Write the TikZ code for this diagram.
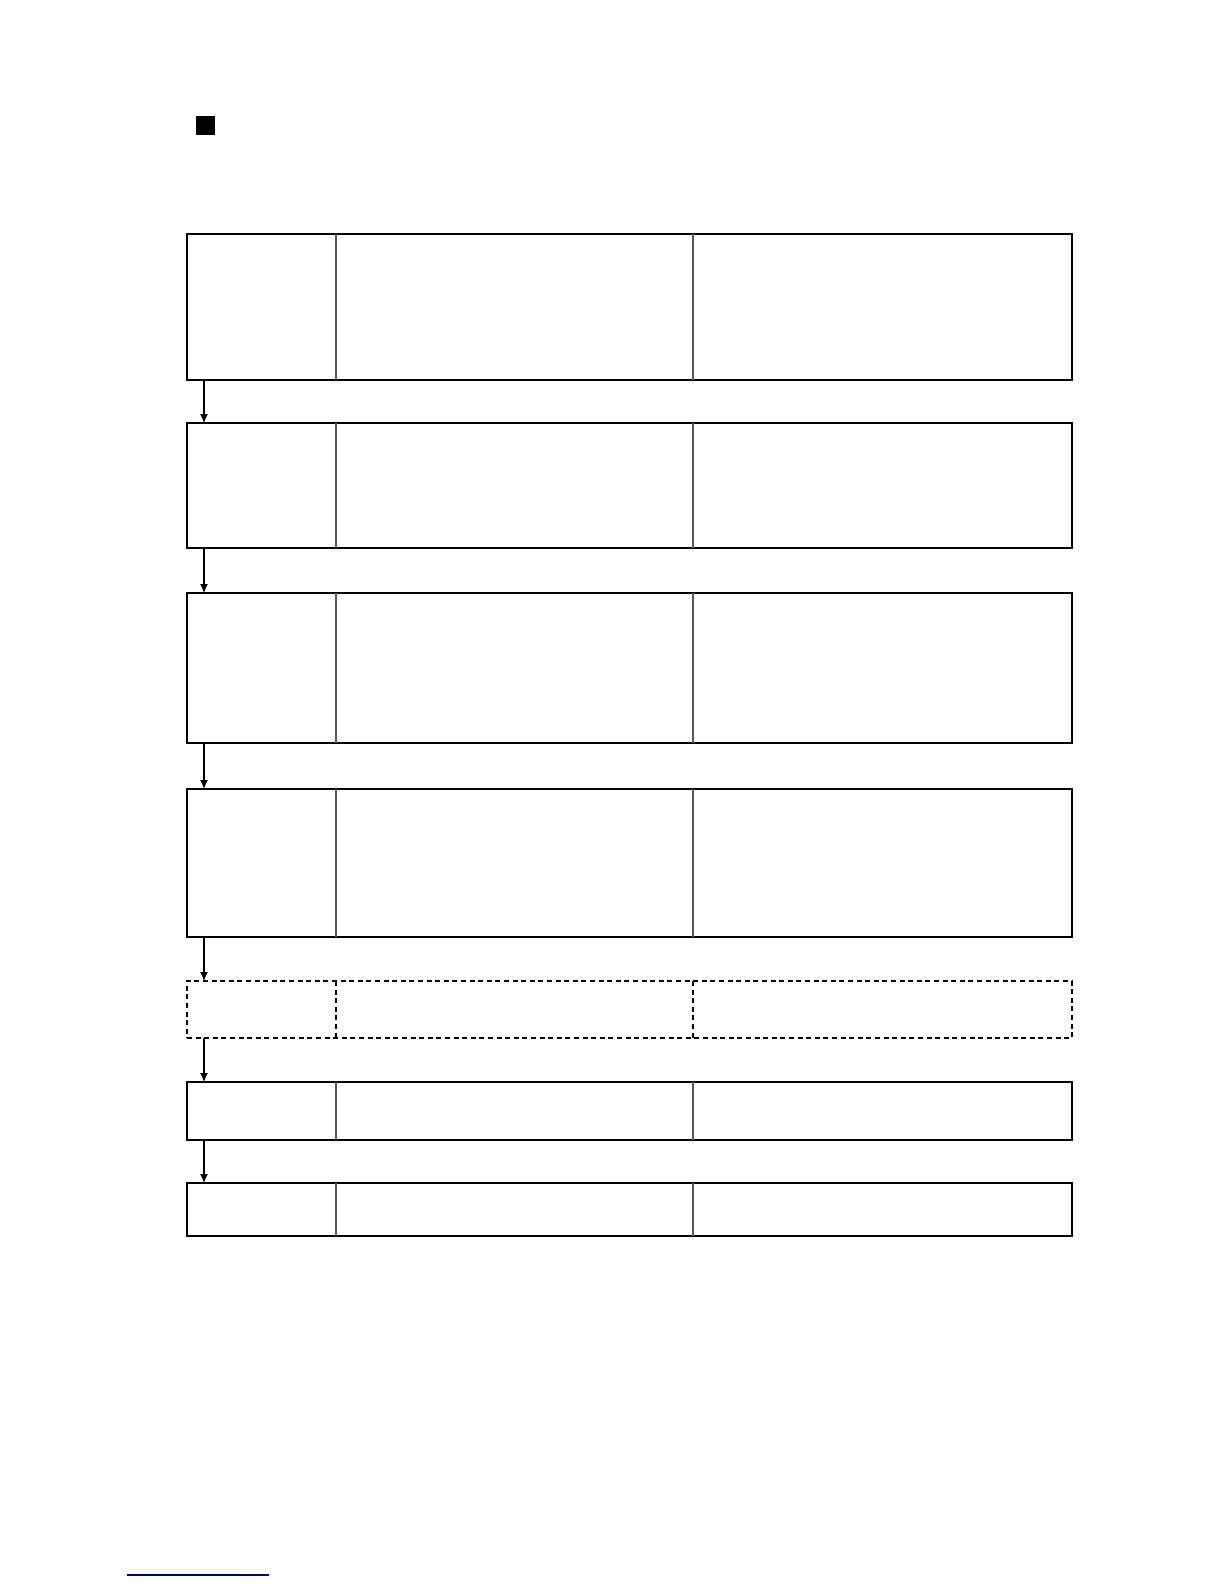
\documentclass[tikz,border=0pt]{standalone}
\usetikzlibrary{arrows.meta}
\begin{document}
\begin{tikzpicture}[x=0.5pt,y=-0.5pt,
  stagebox/.style={draw=black,line width=1pt,rectangle,inner sep=0pt,outer sep=0pt,minimum width=442.5pt},
  dashbox/.style={draw=black,line width=0.8pt,dash pattern=on 2.5pt off 1.8pt,rectangle,inner sep=0pt,outer sep=0pt,minimum width=442.5pt},
  divider/.style={draw=black!65,line width=0.8pt},
  dashdivider/.style={draw=black,line width=0.7pt,dash pattern=on 2.5pt off 1.8pt},
  flow/.style={draw=black,line width=0.6pt,-{Latex[length=4.5pt,width=4pt]}}]
\useasboundingbox (0,0) rectangle (1224,1584);
\fill[white] (0,0) rectangle (1224,1584);
% bullet square
\node[fill=black,inner sep=0pt,minimum size=9.5pt] (bullet) at (205.5,125.5) {};
% boxes
\node[stagebox,minimum height=73pt] (b1) at (629.5,307) {};
\node[stagebox,minimum height=62.5pt] (b2) at (629.5,485.5) {};
\node[stagebox,minimum height=75pt] (b3) at (629.5,668) {};
\node[stagebox,minimum height=74pt] (b4) at (629.5,863) {};
\node[dashbox,minimum height=28.5pt] (b5) at (629.5,1009.5) {};
\node[stagebox,minimum height=29pt] (b6) at (629.5,1111) {};
\node[stagebox,minimum height=26.5pt] (b7) at (629.5,1209.5) {};
% dividers
\foreach \b in {b1,b2,b3,b4,b6,b7}{
  \draw[divider] ([xshift=74.5pt]\b.north west) -- ([xshift=74.5pt]\b.south west);
  \draw[divider] ([xshift=253pt]\b.north west) -- ([xshift=253pt]\b.south west);
}
\draw[dashdivider] ([xshift=74.5pt]b5.north west) -- ([xshift=74.5pt]b5.south west);
\draw[dashdivider] ([xshift=253pt]b5.north west) -- ([xshift=253pt]b5.south west);
% arrows
\foreach \a/\c in {b1/b2,b2/b3,b3/b4,b4/b5,b5/b6,b6/b7}{
  \draw[flow] ([xshift=8.5pt]\a.south west) -- ([xshift=8.5pt]\c.north west);
}
% blue line at bottom
\coordinate (bl1) at (127,1575);
\coordinate (bl2) at (269,1575);
\draw[draw=blue!60!black,line width=0.7pt] (bl1) -- (bl2);
\end{tikzpicture}
\end{document}
